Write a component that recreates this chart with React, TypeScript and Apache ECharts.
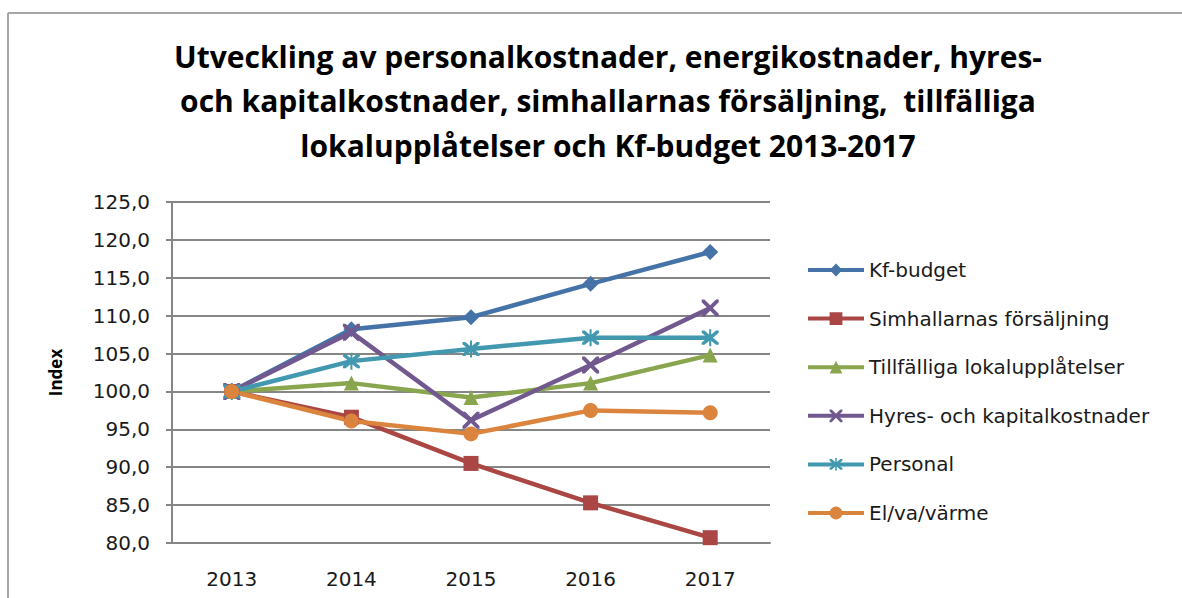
import React, { useEffect, useRef } from "react";
import * as echarts from "echarts";

const categories = ["2013", "2014", "2015", "2016", "2017"];
const seriesNames = [
  "Kf-budget",
  "Simhallarnas försäljning",
  "Tillfälliga lokalupplåtelser",
  "Hyres- och kapitalkostnader",
  "Personal",
  "El/va/värme",
];
const kfBudget = [100, 108.2, 109.8, 114.2, 118.4];
const simhallar = [100, 96.6, 90.5, 85.3, 80.7];
const tillfalliga = [100, 101.1, 99.2, 101.1, 104.8];
const hyres = [100, 107.8, 96.2, 103.5, 111.0];
const personal = [100, 104.0, 105.6, 107.1, 107.1];
const elVarme = [100, 96.1, 94.4, 97.5, 97.2];
const yTicks = { min: 80, max: 125, interval: 5 };
const titleText =
  "Utveckling av personalkostnader, energikostnader, hyres-\noch kapitalkostnader, simhallarnas försäljning,  tillfälliga\nlokalupplåtelser och Kf-budget 2013-2017";

const colors = ["#4572A7", "#AA4643", "#89A54E", "#71588F", "#4198AF", "#DB843D"];
const xSym =
  "path://M0,0 L1.6,0 L5,3.4 L8.4,0 L10,0 L10,1.6 L6.6,5 L10,8.4 L10,10 L8.4,10 L5,6.6 L1.6,10 L0,10 L0,8.4 L3.4,5 L0,1.6 Z";
const starSym =
  "path://M0,0 L1.6,0 L5,3.4 L8.4,0 L10,0 L10,1.6 L6.6,5 L10,8.4 L10,10 L8.4,10 L5,6.6 L1.6,10 L0,10 L0,8.4 L3.4,5 L0,1.6 Z M4.4,-1 L5.6,-1 L5.6,11 L4.4,11 Z";
const symbols = ["diamond", "rect", "triangle", xSym, starSym, "circle"];
const symbolSizes = [16, 15, 15, 17, 17, 15];
const dataSets = [kfBudget, simhallar, tillfalliga, hyres, personal, elVarme];

const labelFont = "DejaVu Sans";

export default function App() {
  const ref = useRef<HTMLDivElement>(null);
  useEffect(() => {
    if (!ref.current) return;
    const chart = echarts.init(ref.current, undefined, { renderer: "svg" });
    chart.setOption({
      animation: false,
      backgroundColor: "#ffffff",
      title: {
        text: titleText,
        left: 603,
        textAlign: "center",
        top: 29,
        textStyle: {
          fontFamily: "Open Sans",
          fontWeight: "bold",
          fontSize: 30,
          lineHeight: 44.5,
          color: "#000000",
        },
      },
      graphic: [
        {
          type: "line",
          shape: { x1: 8, y1: 13, x2: 1182, y2: 13 },
          style: { stroke: "#a6a6a6", lineWidth: 2 },
        },
        {
          type: "line",
          shape: { x1: 8, y1: 13, x2: 8, y2: 598 },
          style: { stroke: "#a6a6a6", lineWidth: 2 },
        },
      ],
      legend: {
        orient: "vertical",
        left: 806,
        top: 260,
        padding: 0,
        itemWidth: 56,
        itemHeight: 16,
        itemGap: 28.6,
        data: seriesNames,
        lineStyle: { width: 4 },
        textStyle: { fontFamily: labelFont, fontSize: 20, color: "#1a1a1a" },
      },
      grid: { left: 172, top: 202, width: 598, height: 341, containLabel: false },
      xAxis: {
        type: "category",
        data: categories,
        boundaryGap: true,
        axisLine: { lineStyle: { color: "#868686", width: 2 } },
        axisTick: { show: false },
        axisLabel: { fontFamily: labelFont, fontSize: 20, color: "#1a1a1a", margin: 26 },
      },
      yAxis: {
        type: "value",
        min: yTicks.min,
        max: yTicks.max,
        interval: yTicks.interval,
        name: "Index",
        nameLocation: "middle",
        nameGap: 108,
        nameRotate: 90,
        nameTextStyle: { fontFamily: "Open Sans", fontWeight: "bold", fontSize: 17, color: "#000" },
        axisLine: { show: true, lineStyle: { color: "#868686", width: 2 } },
        axisTick: { show: true, length: 6, inside: false, lineStyle: { color: "#868686", width: 2 } },
        splitLine: { lineStyle: { color: "#868686", width: 2 } },
        axisLabel: {
          fontFamily: labelFont,
          fontSize: 20,
          color: "#1a1a1a",
          margin: 22,
          formatter: (v: number) => v.toFixed(1).replace(".", ","),
        },
      },
      series: dataSets.map((d, i) => ({
        name: seriesNames[i],
        type: "line",
        data: d,
        symbol: symbols[i],
        symbolSize: symbolSizes[i],
        showAllSymbol: true,
        color: colors[i],
        lineStyle: { width: 4.5, color: colors[i] },
        itemStyle: { color: colors[i] },
      })),
    });
    return () => chart.dispose();
  }, []);
  return (
    <div
      ref={ref}
      style={{ position: "absolute", left: 0, top: 0, width: 1182, height: 598 }}
    />
  );
}
